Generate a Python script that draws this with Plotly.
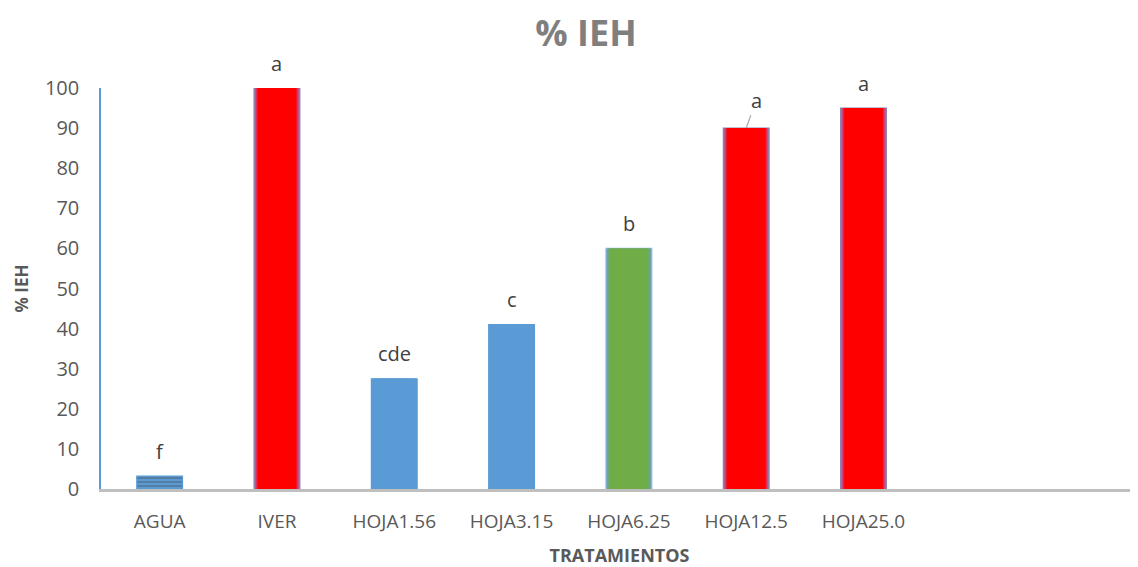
import plotly.graph_objects as go

categories = ["AGUA", "IVER", "HOJA1.56", "HOJA3.15", "HOJA6.25", "HOJA12.5", "HOJA25.0"]
values = [3.2, 100, 27.5, 41, 60, 90, 95]
letters = ["f", "a", "cde", "c", "b", "a", "a"]

# fill colours per bar, from the rim of each bar inwards (soft edge shading)
shade_layers = [
    ["#5b9bd5", "#9a72a8", "#5b9bd5", "#5b9bd5", "#6a9fc0", "#9a72a8", "#9a72a8"],
    ["#5b9bd5", "#c8487c", "#5b9bd5", "#5b9bd5", "#6ca59a", "#c8487c", "#c8487c"],
    ["#5b9bd5", "#ec2040", "#5b9bd5", "#5b9bd5", "#6eaa70", "#ec2040", "#ec2040"],
    ["#5b9bd5", "#ff0000", "#5b9bd5", "#5b9bd5", "#70ad47", "#ff0000", "#ff0000"],
]
layer_widths = [0.39, 0.37, 0.35, 0.33]
edge_colors = ["#5b9bd5", "#8f7fb0", "#5b9bd5", "#5b9bd5", "#8fb8d8", "#8f7fb0", "#8f7fb0"]
pattern_shapes = ["-", "", "", "", "", "", ""]

FONT = "'Open Sans', sans-serif"

fig = go.Figure()
for k, (w, cols) in enumerate(zip(layer_widths, shade_layers)):
    fig.add_trace(go.Bar(
        x=categories, y=values, width=w,
        marker=dict(color=cols,
                    line=dict(color=edge_colors if k == 0 else cols, width=1.2 if k == 0 else 0),
                    pattern=dict(shape=pattern_shapes, fgcolor="#a9cbec", size=4, solidity=0.35)),
        hoverinfo="x+y" if k == 0 else "skip", showlegend=False,
    ))

for i, (c, v, t) in enumerate(zip(categories, values, letters)):
    if i == 5:
        fig.add_annotation(x=c, y=v, text=t, showarrow=True, arrowhead=0, arrowwidth=1.2,
                           arrowcolor="#a6a6a6", ax=10, ay=-28, standoff=0,
                           font=dict(family=FONT, size=20, color="#404040"))
    else:
        fig.add_annotation(x=c, y=v, text=t, showarrow=False, yshift=25,
                           font=dict(family=FONT, size=20, color="#404040"))

# page body has an 8px margin, so the figure is sized to fit the window exactly
fig.update_layout(
    width=1130, height=559,
    margin=dict(l=93, r=0, t=80, b=78, autoexpand=False),
    paper_bgcolor="white", plot_bgcolor="white",
    barmode="overlay",
    title=dict(text="<b>% IEH</b>", x=0.5115, xanchor="center", y=0.955, yanchor="middle",
               font=dict(family=FONT, size=36, color="#7f7f7f")),
    font=dict(family=FONT, color="#595959"),
)
fig.update_xaxes(
    type="category", range=[-0.5, 8.34], automargin=False,
    showline=True, linecolor="#bfbfbf", linewidth=3,
    showgrid=False, ticks="", tickfont=dict(size=19, color="#595959"),
    ticklabelstandoff=13,
    title=dict(text="<b>TRATAMIENTOS</b>", font=dict(size=18, color="#595959"), standoff=21),
)
fig.update_yaxes(
    range=[0, 100], dtick=10, showline=True, linecolor="#5b9bd5", linewidth=1.5,
    showgrid=False, ticks="", zeroline=False, ticklabelstandoff=16, automargin=False,
    tickfont=dict(size=20, color="#595959"),
    title=dict(text="<b>% IEH</b>", font=dict(size=17, color="#595959"), standoff=12),
)

fig.write_html("out.html")
